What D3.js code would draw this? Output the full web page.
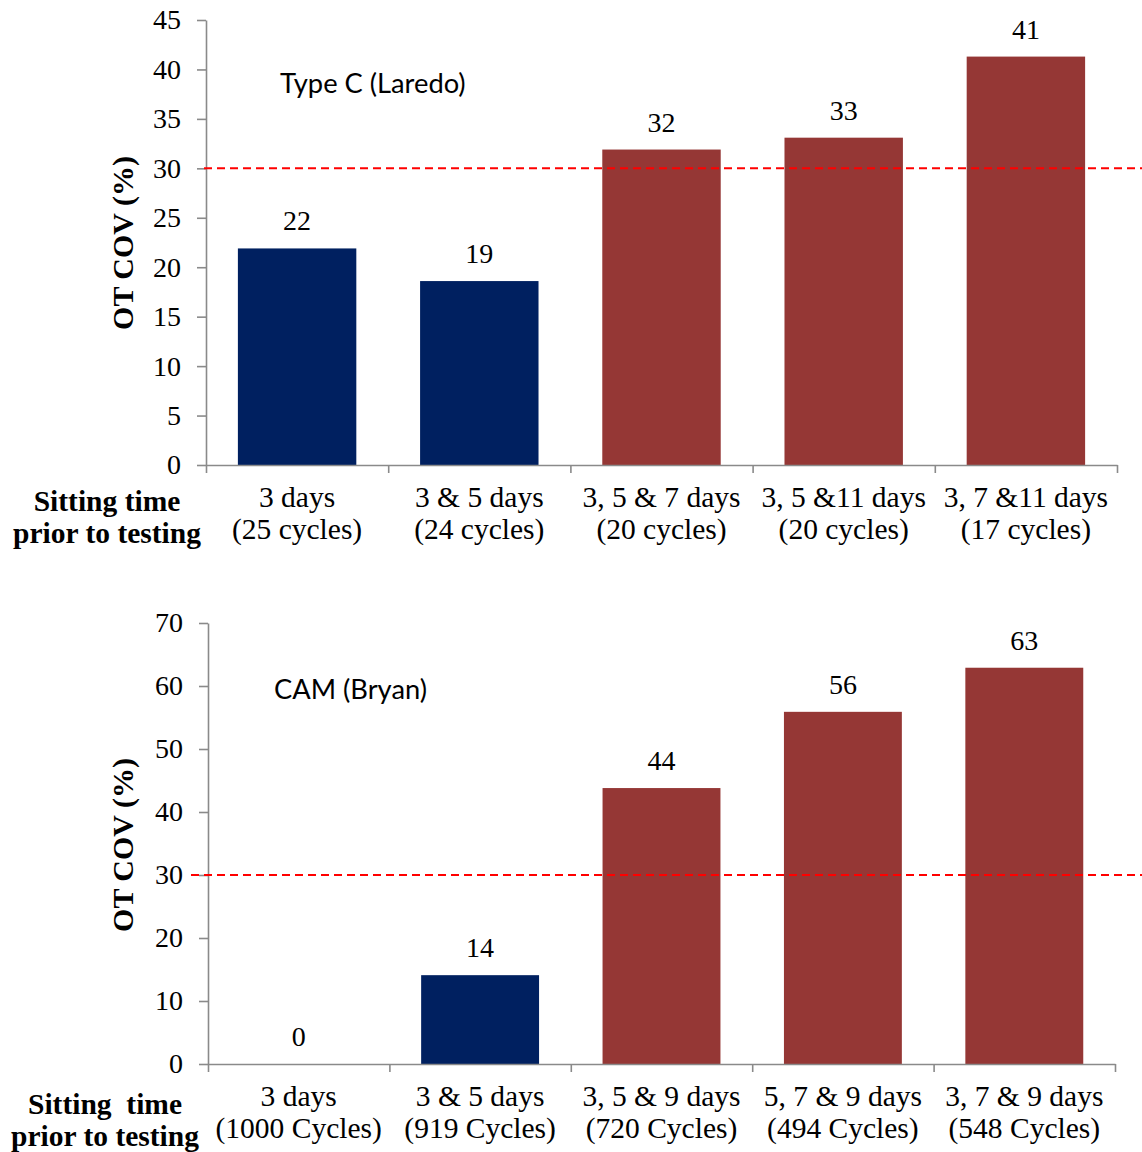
<!DOCTYPE html>
<html>
<head>
<meta charset="utf-8">
<script src="https://cdn.jsdelivr.net/npm/d3@7"></script>
<style>
  html, body { margin: 0; padding: 0; background: #ffffff; }
  svg { display: block; }
</style>
</head>
<body>
<svg id="chart" width="1142" height="1152"></svg>
<script>
// ---------------- DATA ----------------
const topDays    = ["3 days", "3 & 5 days", "3, 5 & 7 days", "3, 5 &11 days", "3, 7 &11 days"];
const topCycles  = ["(25 cycles)", "(24 cycles)", "(20 cycles)", "(20 cycles)", "(17 cycles)"];
const topValues  = [21.9, 18.6, 31.9, 33.1, 41.3];
const topLabels  = ["22", "19", "32", "33", "41"];
const topTicks   = [0, 5, 10, 15, 20, 25, 30, 35, 40, 45];
const topTitle   = "Type C (Laredo)";

const botDays    = ["3 days", "3 & 5 days", "3, 5 & 9 days", "5, 7 & 9 days", "3, 7 & 9 days"];
const botCycles  = ["(1000 Cycles)", "(919 Cycles)", "(720 Cycles)", "(494 Cycles)", "(548 Cycles)"];
const botValues  = [0, 14.1, 43.8, 55.9, 62.9];
const botLabels  = ["0", "14", "44", "56", "63"];
const botTicks   = [0, 10, 20, 30, 40, 50, 60, 70];
const botTitle   = "CAM (Bryan)";

const threshold  = 30;
const yAxisTitle = "OT COV (%)";
const xAxisTitleTop = ["Sitting time", "prior to testing"];
const xAxisTitleBot = ["Sitting  time", "prior to testing"];

// ---------------- STYLE ----------------
const NAVY = "#002060";
const BRICK = "#953735";
const AXIS = "#8a8a8a";
const SERIF = "'Liberation Serif', 'Times New Roman', serif";
const SANS = "Lato, Carlito, Calibri, sans-serif";

const svg = d3.select("#chart");
svg.append("rect").attr("width", 1142).attr("height", 1152).attr("fill", "#fff");

function panel(cfg) {
  const g = svg.append("g");
  const n = cfg.values.length;
  const x = d3.scaleBand().domain(d3.range(n)).range([cfg.x0, cfg.x1])
              .paddingInner(0.35).paddingOuter(0.175);
  const y = d3.scaleLinear().domain([0, d3.max(cfg.ticks)]).range([cfg.yBase, cfg.yTop]);

  // bars
  g.selectAll("rect.bar").data(cfg.values).join("rect")
    .attr("class", "bar")
    .attr("x", (d, i) => x(i))
    .attr("width", x.bandwidth())
    .attr("y", d => y(d))
    .attr("height", d => y(0) - y(d))
    .attr("fill", d => d < threshold ? NAVY : BRICK);

  // y axis
  const ya = g.append("g").attr("transform", `translate(${cfg.x0},0)`)
    .call(d3.axisLeft(y).tickValues(cfg.ticks).tickSize(9).tickSizeOuter(0).tickPadding(16)
          .tickFormat(d3.format("d")));
  ya.select(".domain").attr("stroke", AXIS).attr("stroke-width", 1.6);
  ya.selectAll(".tick line").attr("stroke", AXIS).attr("stroke-width", 1.6);
  ya.selectAll(".tick text").attr("font-family", SERIF).attr("font-size", 28).attr("fill", "#000");

  // x axis with boundary ticks
  const xb = d3.scaleLinear().domain([0, n]).range([cfg.x0, cfg.x1]);
  const xa = g.append("g").attr("transform", `translate(0,${cfg.yBase})`)
    .call(d3.axisBottom(xb).tickValues(d3.range(n + 1)).tickSize(8).tickSizeOuter(0).tickFormat(""));
  xa.select(".domain").attr("stroke", AXIS).attr("stroke-width", 1.6);
  xa.selectAll(".tick line").attr("stroke", AXIS).attr("stroke-width", 1.6);

  // threshold line
  g.append("line")
    .attr("x1", cfg.dashStart).attr("x2", 1142)
    .attr("y1", y(threshold)).attr("y2", y(threshold))
    .attr("stroke", "#ff0000").attr("stroke-width", 2).attr("stroke-dasharray", "8,5");

  // value labels
  g.selectAll("text.val").data(cfg.values).join("text")
    .attr("class", "val")
    .attr("x", (d, i) => x(i) + x.bandwidth() / 2)
    .attr("y", d => y(d) - 18)
    .attr("text-anchor", "middle")
    .attr("font-family", SERIF).attr("font-size", 28).attr("fill", "#000")
    .text((d, i) => cfg.labels[i]);

  // category labels
  const cat = g.selectAll("g.cat").data(cfg.days).join("g").attr("class", "cat");
  cat.append("text")
    .attr("x", (d, i) => x(i) + x.bandwidth() / 2)
    .attr("y", cfg.yBase + 42)
    .attr("text-anchor", "middle")
    .attr("font-family", SERIF).attr("font-size", 29.5).attr("fill", "#000")
    .text(d => d);
  cat.append("text")
    .attr("x", (d, i) => x(i) + x.bandwidth() / 2)
    .attr("y", cfg.yBase + 74)
    .attr("text-anchor", "middle")
    .attr("font-family", SERIF).attr("font-size", 29.5).attr("fill", "#000")
    .text((d, i) => cfg.cycles[i]);

  // x axis title
  cfg.xTitle.forEach((t, k) => {
    g.append("text")
      .attr("x", cfg.xTitleX).attr("y", cfg.yBase + cfg.xTitleDy + k * 32)
      .attr("text-anchor", "middle")
      .attr("font-family", SERIF).attr("font-size", 29.5).attr("font-weight", "bold")
      .attr("fill", "#000").style("white-space", "pre")
      .text(t);
  });

  // y axis title
  g.append("text")
    .attr("transform", `translate(133,${cfg.yTitleY}) rotate(-90)`)
    .attr("text-anchor", "middle")
    .attr("font-family", SERIF).attr("font-size", 30).attr("font-weight", "bold")
    .attr("fill", "#000")
    .text(yAxisTitle);

  // annotation
  g.append("text")
    .attr("x", cfg.annX).attr("y", cfg.annY)
    .attr("font-family", SANS).attr("font-size", 27.3).attr("fill", "#000")
    .text(cfg.title);
}

panel({
  days: topDays, cycles: topCycles, values: topValues, labels: topLabels, ticks: topTicks,
  title: topTitle, xTitle: xAxisTitleTop,
  x0: 206, x1: 1117, yBase: 465, yTop: 20, dashStart: 204,
  xTitleX: 107, xTitleDy: 46, yTitleY: 243, annX: 280, annY: 93
});

panel({
  days: botDays, cycles: botCycles, values: botValues, labels: botLabels, ticks: botTicks,
  title: botTitle, xTitle: xAxisTitleBot,
  x0: 208, x1: 1115, yBase: 1064, yTop: 623, dashStart: 191,
  xTitleX: 105, xTitleDy: 50, yTitleY: 845, annX: 274, annY: 699
});
</script>
</body>
</html>
